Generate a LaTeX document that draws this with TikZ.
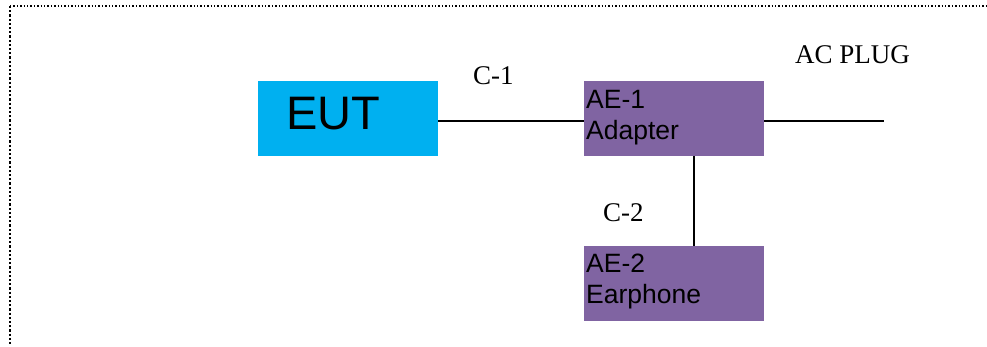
\documentclass[tikz,border=0pt]{standalone}
\usepackage{fontspec}
\setmainfont{Liberation Serif}
\newfontfamily\boxfont{Liberation Sans}
\definecolor{eutblue}{HTML}{00B0F0}
\definecolor{aepurple}{HTML}{8064A2}
\begin{document}
\begin{tikzpicture}[x=1pt,y=-1pt,
  blockbox/.style={draw=none,rectangle,inner sep=0pt,outer sep=0pt,minimum width=180pt,minimum height=75pt},
  boxtext/.style={inner sep=0pt,anchor=base west,align=left,font=\boxfont\fontsize{26.5}{30.5}\selectfont},
  lbl/.style={inner sep=0pt,anchor=base west,font=\fontsize{27}{30}\selectfont},
  wire/.style={draw=black,line width=1.4pt}]
\useasboundingbox (0,0) rectangle (987,346);
% border
\draw[dotted,line width=1.4pt] (10,6) -- (987,6);
\draw[dotted,line width=2.2pt] (10,6) -- (10,346);
% boxes
\node[blockbox,fill=eutblue] (eut) at (348,118.5) {};
\node[blockbox,fill=aepurple] (ae1) at (674,118.5) {};
\node[blockbox,fill=aepurple] (ae2) at (674,283.5) {};
% texts
\node[inner sep=0pt,anchor=base west,font=\boxfont\fontsize{47}{50}\selectfont] (eutt) at (286,129) {EUT};
\node[boxtext] (ae1t) at (586,139) {AE-1\\Adapter};
\node[boxtext] (ae2t) at (586,303) {AE-2\\Earphone};
\node[lbl] (c1) at (473,84) {C-1};
\node[lbl] (c2) at (603,221) {C-2};
\node[lbl] (acplug) at (795,63) {AC PLUG};
% connectors
\coordinate (plug) at (884,121);
\draw[wire] ([yshift=-2.5pt]eut.east) -- ([yshift=-2.5pt]ae1.west);
\draw[wire] ([yshift=-2.5pt]ae1.east) -- (plug);
\draw[wire] ([xshift=20pt]ae1.south) -- ([xshift=20pt]ae2.north);
\end{tikzpicture}
\end{document}
